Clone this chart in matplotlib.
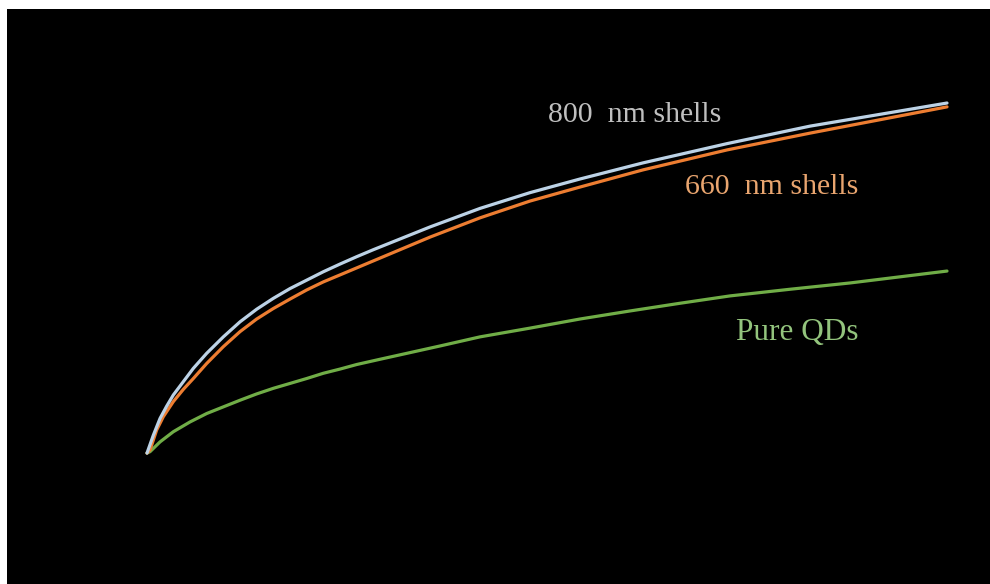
import matplotlib
matplotlib.use("Agg")
import matplotlib.pyplot as plt

# Normalised growth traces (time in arbitrary units, signal normalised to the 800 nm end point)
t_800 = [0, 0.79, 1.63, 2.46, 3.29, 4.54, 5.79, 7.46, 9.54, 11.63, 13.71, 15.79, 17.88,
         19.96, 22.04, 24.13, 26.21, 28.29, 35.38, 41.63, 47.88, 54.13, 62.0, 72.5, 82.88, 100]
y_800 = [0, 0.051, 0.099, 0.134, 0.166, 0.204, 0.242, 0.285, 0.332, 0.375, 0.411, 0.442, 0.470,
         0.494, 0.518, 0.540, 0.561, 0.581, 0.646, 0.699, 0.744, 0.783, 0.829, 0.884, 0.934, 1.0]

t_660 = [0, 0.38, 1.21, 2.04, 3.29, 4.54, 5.79, 7.46, 9.54, 11.63, 13.71, 15.79, 17.88,
         19.96, 22.04, 24.13, 26.21, 28.29, 35.38, 41.63, 47.88, 54.13, 62.0, 72.5, 82.88, 100]
y_660 = [0, 0.009, 0.066, 0.104, 0.147, 0.182, 0.213, 0.256, 0.304, 0.347, 0.383, 0.413, 0.440,
         0.466, 0.489, 0.509, 0.529, 0.549, 0.617, 0.672, 0.720, 0.760, 0.809, 0.866, 0.914, 0.989]

t_qd = [0, 0.38, 1.63, 3.29, 5.38, 7.46, 9.54, 11.63, 13.71, 15.79, 17.88, 19.96, 22.04,
        24.13, 26.21, 29.13, 36.63, 41.63, 47.88, 54.13, 60.38, 66.63, 72.88, 80.38, 87.88, 100]
y_qd = [0, 0.004, 0.032, 0.061, 0.089, 0.113, 0.132, 0.151, 0.169, 0.185, 0.199, 0.213, 0.228,
        0.240, 0.253, 0.268, 0.306, 0.332, 0.357, 0.383, 0.406, 0.428, 0.449, 0.468, 0.486, 0.52]

labels = ["800  nm shells", "660  nm shells", "Pure QDs"]

fig = plt.figure(figsize=(9.9, 5.84), dpi=100, facecolor="white")
ax = fig.add_axes([7 / 990, 0, 983 / 990, 575 / 584])
ax.set_facecolor("black")

line_kw = dict(lw=2.3, solid_capstyle="round", solid_joinstyle="round")
ax.plot(t_qd, y_qd, color="#70ad47", **line_kw)
ax.plot(t_660, y_660, color="#ed7d31", **line_kw)
ax.plot(t_800, y_800, color="#bcd2e6", **line_kw)

ax.set_xlim(-17.5, 105.375)
ax.set_ylim(-0.374, 1.2686)
ax.set_xticks([])
ax.set_yticks([])
for s in ax.spines.values():
    s.set_visible(False)

font = dict(family="Liberation Serif", va="center", ha="left")
ax.text(50.1, 0.965, labels[0], color="#bfbfbf", fontsize=21.5, **font)
ax.text(67.25, 0.760, labels[1], color="#e9a56f", fontsize=21.5, **font)
ax.text(73.6, 0.345, labels[2], color="#93c47d", fontsize=22.5, **font)

fig.savefig("out.png", dpi=100, facecolor="white")
